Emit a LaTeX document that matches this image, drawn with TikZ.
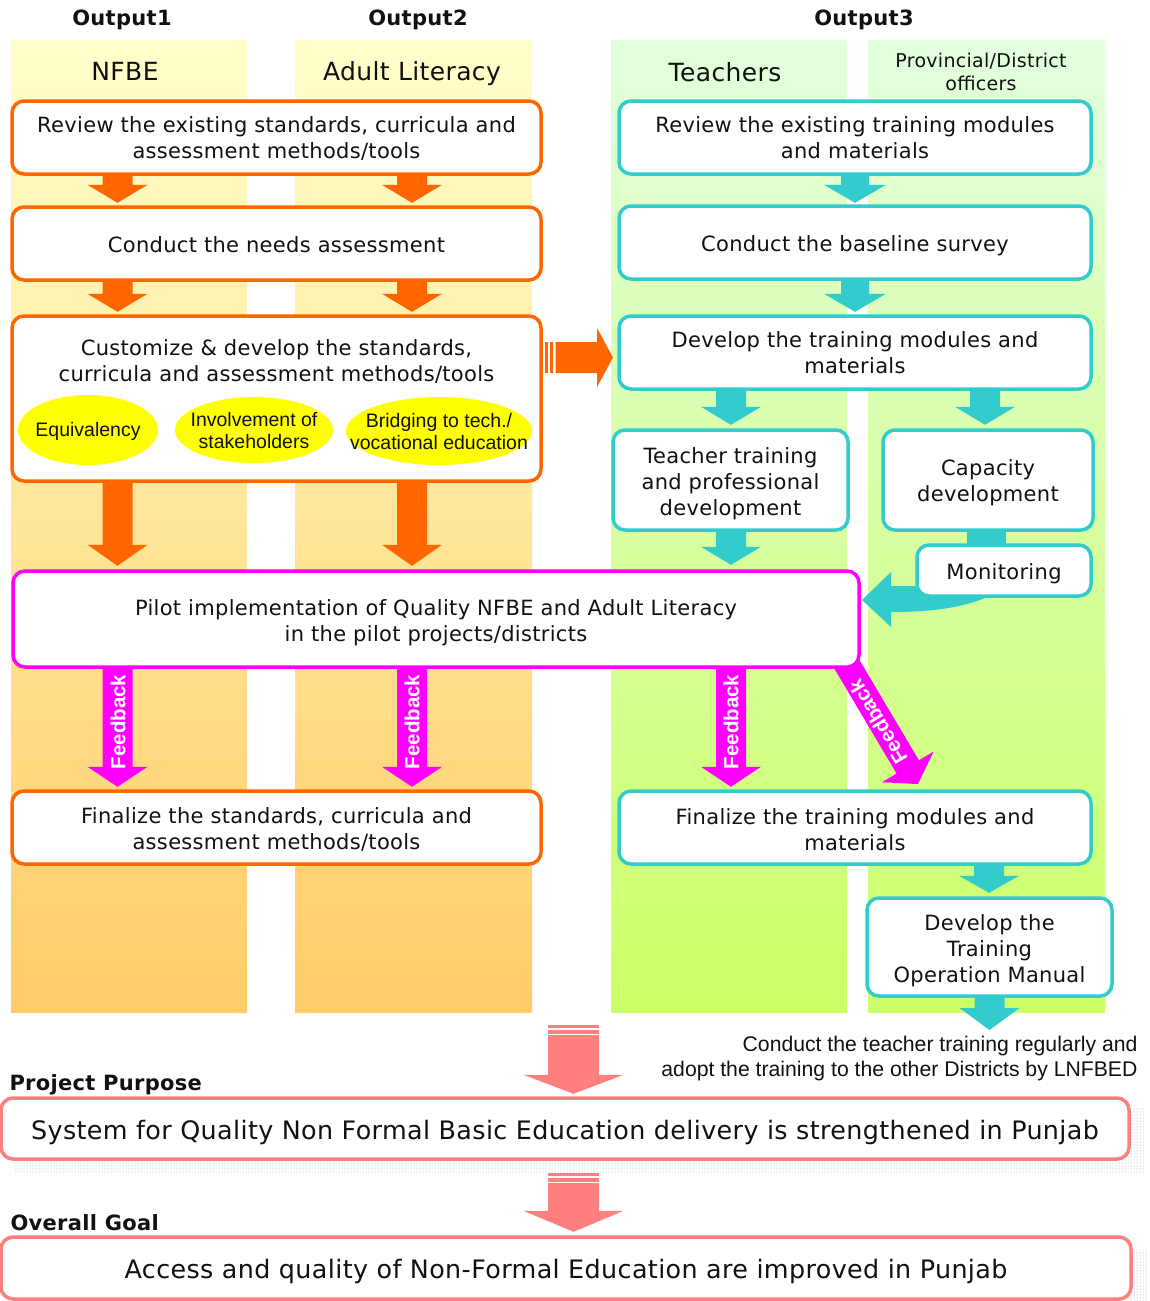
\documentclass[tikz,border=0pt]{standalone}
\usepackage{fontspec}
\setmainfont{DejaVu Sans}[LetterSpace=1.5]
\newfontfamily\arialf{Liberation Sans}
\usetikzlibrary{calc,shapes.geometric,patterns}

\definecolor{orangeC}{HTML}{FF6600}
\definecolor{cyanC}{HTML}{33CCCC}
\definecolor{magC}{HTML}{FF00FF}
\definecolor{pinkC}{HTML}{FF7F7F}
\definecolor{yellowC}{HTML}{FFFF00}
\definecolor{warmTop}{HTML}{FFFFCC}
\definecolor{warmBot}{HTML}{FFCC66}
\definecolor{greenTop}{HTML}{E2FFDE}
\definecolor{greenBot}{HTML}{CCFF66}
\definecolor{txtC}{HTML}{111111}

\begin{document}
\begin{tikzpicture}[x=1pt,y=-1pt,
  % vertical block arrow: shaft half width, head half width, head length
  bdn/.style n args={3}{to path={let \p1=(\tikztostart),\p2=(\tikztotarget) in
    ({\x1-#1},\y1) -- ({\x1+#1},\y1) -- ({\x1+#1},{\y2+#3}) -- ({\x1+#2},{\y2+#3})
    -- (\x1,\y2) -- ({\x1-#2},{\y2+#3}) -- ({\x1-#1},{\y2+#3}) -- cycle}},
  frame/.style={line width=3.5pt, rounded corners=12pt, fill=white, inner sep=0pt},
  obox/.style={frame, draw=orangeC},
  cbox/.style={frame, draw=cyanC},
  mbox/.style={frame, draw=magC},
  pbox/.style={frame, draw=pinkC},
  btext/.style={font=\fontsize{21}{26}\selectfont, text=txtC, align=center},
  ptext/.style={font=\fontsize{25.4}{30}\selectfont, text=txtC},
  hdr/.style={font=\fontsize{21}{25}\selectfont\bfseries, text=txtC},
  colhead/.style={font=\fontsize{25}{30}\selectfont, text=txtC, anchor=base},
  oval/.style={ellipse, fill=yellowC, inner sep=0pt},
  ovaltext/.style={align=center, text=txtC, font=\arialf\fontsize{19.5}{22}\selectfont},
  fbtext/.style={font=\arialf\bfseries\fontsize{20.5}{24}\selectfont, text=white},
  shadowdots/.style={pattern=dots, pattern color=gray!70},
]
\useasboundingbox (0,0) rectangle (1150,1301);
\fill[white] (0,0) rectangle (1150,1301);

% column backgrounds
\shade[top color=warmTop, bottom color=warmBot] (11,40) rectangle (247,1012);
\shade[top color=warmTop, bottom color=warmBot] (295,40) rectangle (532,1012);
\shade[top color=greenTop, bottom color=greenBot] (611,40) rectangle (847,1012);
\shade[top color=greenTop, bottom color=greenBot] (868,40) rectangle (1105,1012);

% headings
\node[hdr] (out1) at (122,20) {Output1};
\node[hdr] (out2) at (418,20) {Output2};
\node[hdr] (out3) at (864,20) {Output3};
\node[colhead] (hnfbe) at (125,80.5) {NFBE};
\node[colhead] (hadult) at (412,80.5) {Adult Literacy};
\node[colhead] (hteach) at (725,81.5) {Teachers};
\node[font=\fontsize{19}{23}\selectfont, text=txtC, align=center] (hprov) at (981,72) {Provincial/District\\officers};

% arrow axes
\coordinate (cA) at (117.5,0);
\coordinate (cB) at (412,0);
\coordinate (cT) at (855,0);
\coordinate (cL) at (731,0);
\coordinate (cR) at (985,0);
\coordinate (cM) at (989,0);
\coordinate (cP) at (573.5,0);
\coordinate (cCM) at (967,0);
\coordinate (cCM2) at (1006,0);

% box outlines (placed first so the connectors can refer to them)
\path
  (276.5,137.5) node[minimum width=529pt, minimum height=73pt] (o1) {}
  (276.5,243.5) node[minimum width=529pt, minimum height=73pt] (o2) {}
  (276.5,398.5) node[minimum width=529pt, minimum height=165pt] (o3) {}
  (436,619) node[minimum width=846pt, minimum height=96pt] (p) {}
  (276.5,827.5) node[minimum width=529pt, minimum height=73pt] (o4) {}
  (855,137.5) node[minimum width=472pt, minimum height=73pt] (t1) {}
  (855,242.5) node[minimum width=472pt, minimum height=73pt] (t2) {}
  (855,352.5) node[minimum width=472pt, minimum height=73pt] (t3) {}
  (730.5,480) node[minimum width=235pt, minimum height=100pt] (t4) {}
  (988,480) node[minimum width=210pt, minimum height=100pt] (t5) {}
  (1004,570.5) node[minimum width=174pt, minimum height=51pt] (mon) {}
  (855,827.5) node[minimum width=472pt, minimum height=73pt] (t6) {}
  (989.5,947) node[minimum width=245pt, minimum height=98pt] (t7) {}
  (565,1128.5) node[minimum width=1128pt, minimum height=61pt] (pp) {}
  (566,1268) node[minimum width=1130pt, minimum height=62pt] (og) {};

% orange flow arrows
\fill[orangeC] (o1.south -| cA) to[bdn={15pt}{30pt}{18pt}] ($(o2.north -| cA)+(0,-4)$);
\fill[orangeC] (o1.south -| cB) to[bdn={15pt}{30pt}{18pt}] ($(o2.north -| cB)+(0,-4)$);
\fill[orangeC] (o2.south -| cA) to[bdn={15pt}{30pt}{18pt}] ($(o3.north -| cA)+(0,-4)$);
\fill[orangeC] (o2.south -| cB) to[bdn={15pt}{30pt}{18pt}] ($(o3.north -| cB)+(0,-4)$);
\fill[orangeC] (o3.south -| cA) to[bdn={15pt}{30pt}{21pt}] ($(p.north -| cA)+(0,-5)$);
\fill[orangeC] (o3.south -| cB) to[bdn={15pt}{30pt}{21pt}] ($(p.north -| cB)+(0,-5)$);

% orange arrow from the customize step to the training modules
\fill[orangeC] (545,342) rectangle (547.5,373);
\fill[orangeC] (549.5,342) rectangle (553,373);
\fill[orangeC] (555.5,342) -- (597,342) -- (597,328) -- (613,357.5) -- (597,387) -- (597,373) -- (555.5,373) -- cycle;

% cyan flow arrows
\fill[cyanC] (t1.south -| cT) to[bdn={14pt}{31pt}{18pt}] ($(t2.north -| cT)+(0,-3)$);
\fill[cyanC] (t2.south -| cT) to[bdn={14pt}{31pt}{18pt}] ($(t3.north -| cT)+(0,-4)$);
\fill[cyanC] (t3.south -| cL) to[bdn={15pt}{30pt}{18pt}] ($(t4.north -| cL)+(0,-5)$);
\fill[cyanC] (t3.south -| cR) to[bdn={15pt}{30pt}{18pt}] ($(t5.north -| cR)+(0,-5)$);
\fill[cyanC] (t4.south -| cL) to[bdn={15pt}{30pt}{18pt}] ($(p.north -| cL)+(0,-6)$);
\fill[cyanC] (t6.south -| cM) to[bdn={15pt}{30pt}{17pt}] ($(t7.north -| cM)+(0,-5)$);
\coordinate (t7end) at (989.5,1030);
\fill[cyanC] (t7.south) to[bdn={15pt}{30pt}{22pt}] (t7end);

% capacity development feeds monitoring
\fill[cyanC] (t5.south -| cCM) rectangle (mon.north -| cCM2);
% curved return arrow from monitoring to the pilot
\fill[cyanC] (862,600) -- (891,572) -- (891,586) -- (990,586) -- (990,596)
  .. controls (965,607) and (935,612) .. (891,612) -- (891,627) -- cycle;

% feedback arrows
\fill[magC] (p.south -| cA) to[bdn={15pt}{30pt}{20pt}] ($(o4.north -| cA)+(0,-4)$);
\fill[magC] (p.south -| cB) to[bdn={15pt}{30pt}{20pt}] ($(o4.north -| cB)+(0,-4)$);
\fill[magC] (p.south -| cL) to[bdn={15pt}{30pt}{20pt}] ($(t6.north -| cL)+(0,-4)$);
\begin{scope}[shift={(845.5,662)}, rotate=30.7]
  \fill[magC] (-13,0) -- (13,0) -- (13,122) -- (30,122) -- (0,142) -- (-30,122) -- (-13,122) -- cycle;
\end{scope}
\node[fbtext, rotate=90] (fb1) at (118,722) {Feedback};
\node[fbtext, rotate=90] (fb2) at (412,722) {Feedback};
\node[fbtext, rotate=90] (fb3) at (731,722) {Feedback};
\node[fbtext, rotate=120.7] (fb4) at (878,722) {Feedback};

% pink arrows to purpose and goal
\coordinate (ppin) at (573.5,1025);
\fill[pinkC] (ppin) to[bdn={25.5pt}{50pt}{19pt}] ($(pp.north -| cP)+(0,-4)$);
\fill[white] (548,1028.3) rectangle (599,1029.5);
\fill[white] (548,1033.8) rectangle (599,1035);
\fill[pinkC] ($(pp.south -| cP)+(0,14)$) to[bdn={25.5pt}{50pt}{21pt}] ($(og.north -| cP)+(0,-5)$);
\fill[white] (548,1176.3) rectangle (599,1177.5);
\fill[white] (548,1181.8) rectangle (599,1183);

% dotted shadows
\fill[shadowdots] (15,1108) rectangle (1145,1172);
\fill[shadowdots] (1131,1250) rectangle (1147,1301);

% orange column boxes
\node[obox, minimum width=529pt, minimum height=73pt] (o1b) at (o1) {};
\node[obox, minimum width=529pt, minimum height=73pt] (o2b) at (o2) {};
\node[obox, minimum width=529pt, minimum height=165pt] (o3b) at (o3) {};
\node[obox, minimum width=529pt, minimum height=73pt] (o4b) at (o4) {};
\node[btext] (o1t) at ($(o1)+(0,1)$) {Review the existing standards, curricula and\\assessment methods/tools};
\node[btext] (o2t) at ($(o2)+(0,1)$) {Conduct the needs assessment};
\node[btext] (o3t) at (276.5,361.5) {Customize \& develop the standards,\\curricula and assessment methods/tools};
\node[btext] (o4t) at ($(o4)+(0,2)$) {Finalize the standards, curricula and\\assessment methods/tools};
\node[oval, minimum width=140pt, minimum height=70pt] (e1) at (88,430) {};
\node[oval, minimum width=158pt, minimum height=66pt] (e2) at (254,430) {};
\node[oval, minimum width=186pt, minimum height=68pt] (e3) at (439,431) {};
\node[ovaltext] (e1t) at ($(e1)+(0,1)$) {Equivalency};
\node[ovaltext] (e2t) at ($(e2)+(0,1)$) {Involvement of\\stakeholders};
\node[ovaltext] (e3t) at ($(e3)+(0,1)$) {Bridging to tech./\\vocational education};

% pilot
\node[mbox, minimum width=846pt, minimum height=96pt] (pb) at (p) {};
\node[btext] (pt) at ($(p)+(0,4)$) {Pilot implementation of Quality NFBE and Adult Literacy\\in the pilot projects/districts};

% cyan column boxes
\node[cbox, minimum width=472pt, minimum height=73pt] (t1b) at (t1) {};
\node[cbox, minimum width=472pt, minimum height=73pt] (t2b) at (t2) {};
\node[cbox, minimum width=472pt, minimum height=73pt] (t3b) at (t3) {};
\node[cbox, minimum width=235pt, minimum height=100pt] (t4b) at (t4) {};
\node[cbox, minimum width=210pt, minimum height=100pt] (t5b) at (t5) {};
\node[cbox, minimum width=174pt, minimum height=51pt] (monb) at (mon) {};
\node[cbox, minimum width=472pt, minimum height=73pt] (t6b) at (t6) {};
\node[cbox, minimum width=245pt, minimum height=98pt] (t7b) at (t7) {};
\node[btext] (t1t) at (t1) {Review the existing training modules\\and materials};
\node[btext] (t2t) at ($(t2)+(0,3)$) {Conduct the baseline survey};
\node[btext] (t3t) at (t3) {Develop the training modules and\\materials};
\node[btext] (t4t) at ($(t4)+(0,3.5)$) {Teacher training\\and professional\\development};
\node[btext] (t5t) at ($(t5)+(0,3)$) {Capacity\\development};
\node[btext] (mont) at ($(mon)+(0,3.5)$) {Monitoring};
\node[btext] (t6t) at ($(t6)+(0,2)$) {Finalize the training modules and\\materials};
\node[btext] (t7t) at ($(t7)+(0,4)$) {Develop the\\Training\\Operation Manual};

% note under the teacher column
\node[font=\arialf\fontsize{21.2}{25}\selectfont, text=txtC, align=right, anchor=east] (note) at (1141,1059) {Conduct the teacher training regularly and\\adopt the training to the other Districts by LNFBED};

% purpose and goal
\node[hdr, anchor=west] (lpp) at (6,1085) {Project Purpose};
\node[pbox, minimum width=1128pt, minimum height=61pt] (ppb) at (pp) {};
\node[ptext] (ppt) at ($(pp)+(0,3.5)$) {System for Quality Non Formal Basic Education delivery is strengthened in Punjab};
\node[hdr, anchor=west] (log) at (7,1223) {Overall Goal};
\node[pbox, minimum width=1130pt, minimum height=62pt] (ogb) at (og) {};
\node[ptext] (ogt) at ($(og)+(0,3)$) {Access and quality of Non-Formal Education are improved in Punjab};
\end{tikzpicture}
\end{document}
